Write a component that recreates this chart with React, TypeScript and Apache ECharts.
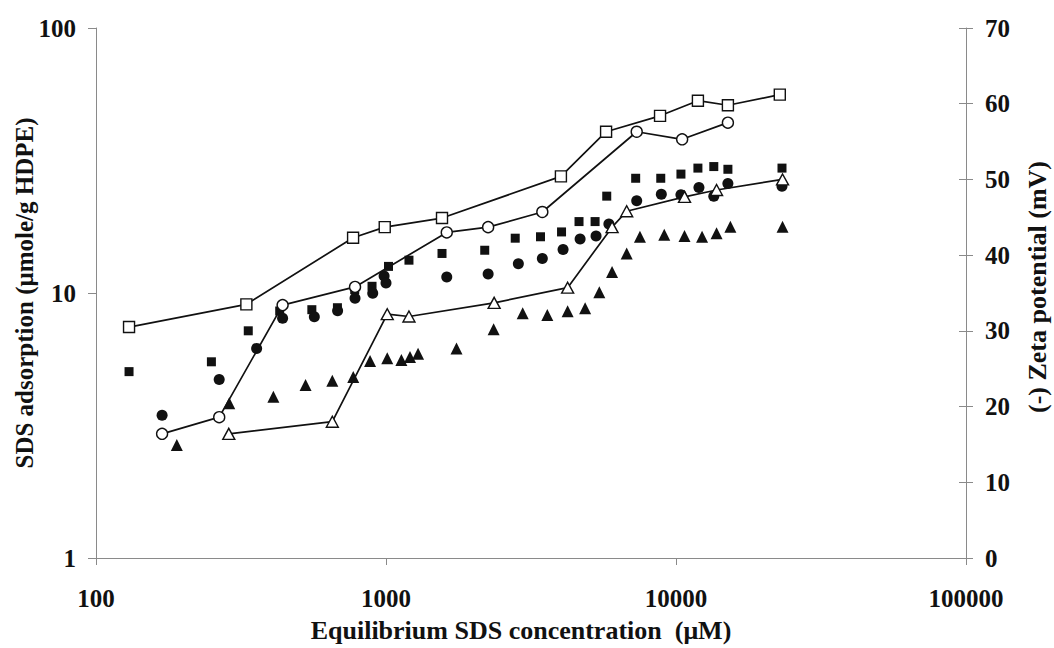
import React, { useEffect, useRef } from "react";
import * as echarts from "echarts";

// Equilibrium SDS concentration (µM) and adsorption (µmole/g HDPE), filled markers
const sqConc = [130, 250, 335, 430, 555, 680, 780, 895, 1020, 1200, 1560, 2190, 2790, 3410, 4030, 4630, 5260, 5770, 7260, 8860, 10400, 11900, 13500, 15100, 23200];
const sqAds = [5.05, 5.5, 7.2, 8.55, 8.65, 8.8, 10.3, 10.6, 12.6, 13.3, 14.1, 14.5, 16.1, 16.3, 17.0, 18.6, 18.6, 23.2, 27.1, 27.1, 28.1, 29.6, 30.0, 29.3, 29.6];

const ciConc = [169, 266, 358, 440, 566, 681, 782, 900, 985, 1000, 1620, 2250, 2860, 3460, 4080, 4670, 5300, 5870, 7320, 8900, 10400, 12000, 13500, 15100, 23200];
const ciAds = [3.46, 4.72, 6.18, 8.03, 8.14, 8.58, 9.55, 9.97, 11.6, 10.9, 11.5, 11.8, 12.9, 13.5, 14.6, 16.0, 16.4, 18.2, 22.3, 23.6, 23.5, 25.0, 23.2, 25.9, 25.3];

const trConc = [190, 288, 409, 528, 653, 771, 881, 1010, 1130, 1210, 1290, 1750, 2350, 2960, 3600, 4230, 4860, 5440, 6020, 6760, 7510, 9110, 10700, 12300, 13800, 15400, 23300];
const trAds = [2.67, 3.84, 4.06, 4.5, 4.67, 4.82, 5.54, 5.67, 5.59, 5.74, 5.9, 6.18, 7.3, 8.38, 8.26, 8.53, 8.75, 10.06, 12.0, 14.1, 16.3, 16.6, 16.4, 16.3, 16.8, 17.8, 17.8];

// Zeta potential (-mV), open markers joined by lines
const zSqConc = [130, 330, 770, 990, 1560, 4010, 5740, 8810, 11900, 15100, 22800];
const zSq = [30.5, 33.5, 42.3, 43.7, 44.9, 50.4, 56.3, 58.4, 60.4, 59.8, 61.2];

const zCiConc = [169, 266, 440, 782, 1620, 2250, 3460, 7320, 10500, 15100];
const zCi = [16.4, 18.6, 33.4, 35.8, 43.0, 43.7, 45.7, 56.3, 55.3, 57.5];

const zTrConc = [287, 653, 1010, 1200, 2360, 4230, 6020, 6760, 10700, 13800, 23300];
const zTr = [16.4, 18.0, 32.2, 31.9, 33.7, 35.7, 43.7, 45.8, 47.7, 48.6, 50.0];

const xTitle = "Equilibrium SDS concentration  (μM)";
const yLeftTitle = "SDS adsorption (μmole/g HDPE)";
const yRightTitle = "(-) Zeta potential (mV)";

const pairs = (xs: number[], ys: number[]) => xs.map((x, i) => [x, ys[i]]);

const FONT = "'Liberation Serif', 'Times New Roman', serif";
const INK = "#111111";
const AXIS = "#8a8a8a";

const labelStyle = {
  fontFamily: FONT,
  fontWeight: "bold" as const,
  fontSize: 25,
  color: INK,
};

export default function App() {
  const ref = useRef<HTMLDivElement>(null);

  useEffect(() => {
    if (!ref.current) return;
    const chart = echarts.init(ref.current, null, { renderer: "svg" });

    const filledStyle = { color: INK, opacity: 1 };
    const openStyle = { color: "#fff", borderColor: INK, borderWidth: 1.4, opacity: 1 };
    const lineStyle = { color: INK, width: 1.7 };

    chart.setOption({
      animation: false,
      backgroundColor: "#fff",
      grid: { left: 96, right: 88, top: 28, bottom: 90 },
      xAxis: {
        type: "log",
        logBase: 10,
        min: 100,
        max: 100000,
        axisLine: { onZero: false, lineStyle: { color: AXIS, width: 1 } },
        axisTick: { show: true, inside: false, length: 7, lineStyle: { color: AXIS } },
        axisLabel: {
          ...labelStyle,
          margin: 28,
          formatter: (v: number) => String(Math.round(v)),
        },
        splitLine: { show: false },
        minorTick: { show: false },
      },
      yAxis: [
        {
          type: "log",
          logBase: 10,
          min: 1,
          max: 100,
          position: "left",
          axisLine: { show: true, onZero: false, lineStyle: { color: AXIS, width: 1 } },
          axisTick: { show: true, inside: false, length: 8, lineStyle: { color: AXIS } },
          axisLabel: {
            ...labelStyle,
            margin: 20,
            formatter: (v: number) => String(Math.round(v)),
          },
          splitLine: { show: false },
        },
        {
          type: "value",
          min: 0,
          max: 70,
          interval: 10,
          position: "right",
          axisLine: { show: true, onZero: false, lineStyle: { color: AXIS, width: 1 } },
          axisTick: { show: true, inside: false, length: 7, lineStyle: { color: AXIS } },
          axisLabel: { ...labelStyle, margin: 19 },
          splitLine: { show: false },
        },
        {
          // inner half of the cross-shaped ticks on the zeta axis
          type: "value",
          min: 0,
          max: 70,
          interval: 10,
          position: "right",
          axisLine: { show: false },
          axisTick: { show: true, inside: true, length: 7, lineStyle: { color: AXIS } },
          axisLabel: { show: false },
          splitLine: { show: false },
        },
      ],
      series: [
        {
          name: "Adsorption ■",
          type: "scatter",
          yAxisIndex: 0,
          symbol: "rect",
          symbolSize: 9,
          itemStyle: filledStyle,
          data: pairs(sqConc, sqAds),
          z: 2,
        },
        {
          name: "Adsorption ●",
          type: "scatter",
          yAxisIndex: 0,
          symbol: "circle",
          symbolSize: 11,
          itemStyle: filledStyle,
          data: pairs(ciConc, ciAds),
          z: 2,
        },
        {
          name: "Adsorption ▲",
          type: "scatter",
          yAxisIndex: 0,
          symbol: "triangle",
          symbolSize: [12, 12],
          itemStyle: filledStyle,
          data: pairs(trConc, trAds),
          z: 2,
        },
        {
          name: "Zeta □",
          type: "line",
          yAxisIndex: 1,
          symbol: "rect",
          symbolSize: 11,
          showAllSymbol: true,
          lineStyle,
          itemStyle: openStyle,
          data: pairs(zSqConc, zSq),
          z: 3,
        },
        {
          name: "Zeta ○",
          type: "line",
          yAxisIndex: 1,
          symbol: "circle",
          symbolSize: 11,
          showAllSymbol: true,
          lineStyle,
          itemStyle: openStyle,
          data: pairs(zCiConc, zCi),
          z: 3,
        },
        {
          name: "Zeta △",
          type: "line",
          yAxisIndex: 1,
          symbol: "triangle",
          symbolSize: [12, 11],
          showAllSymbol: true,
          lineStyle,
          itemStyle: openStyle,
          data: pairs(zTrConc, zTr),
          z: 3,
        },
      ],
      graphic: [
        {
          type: "text",
          x: 521,
          y: 630,
          style: {
            text: xTitle,
            fontFamily: FONT,
            fontWeight: "bold",
            fontSize: 26,
            fill: INK,
            align: "center",
            verticalAlign: "middle",
          },
        },
        {
          type: "text",
          x: 24,
          y: 293,
          rotation: Math.PI / 2,
          style: {
            text: yLeftTitle,
            fontFamily: FONT,
            fontWeight: "bold",
            fontSize: 25,
            fill: INK,
            align: "center",
            verticalAlign: "middle",
          },
        },
        {
          type: "text",
          x: 1037,
          y: 287,
          rotation: Math.PI / 2,
          style: {
            text: yRightTitle,
            fontFamily: FONT,
            fontWeight: "bold",
            fontSize: 26,
            fill: INK,
            align: "center",
            verticalAlign: "middle",
          },
        },
      ],
    });

    return () => chart.dispose();
  }, []);

  return (
    <div
      ref={ref}
      style={{ position: "fixed", left: 0, top: 0, width: 1054, height: 648, background: "#fff" }}
    />
  );
}
